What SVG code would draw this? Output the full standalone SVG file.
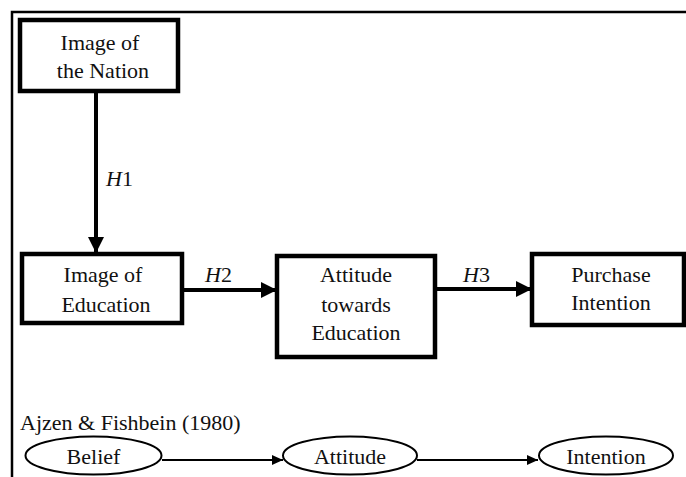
<svg xmlns="http://www.w3.org/2000/svg" width="686" height="477" viewBox="0 0 686 477">
<style>
text{font-family:'Liberation Serif','DejaVu Serif',serif;font-size:22px;fill:#111}
.c{text-anchor:middle}
.box{fill:#fff;stroke:#000;stroke-width:4.5}
.ell{fill:#fff;stroke:#000;stroke-width:2}
.big{stroke:#000;stroke-width:4;fill:none}
.small{stroke:#000;stroke-width:2.2;fill:none}
</style>
<defs>
<marker id="ah" markerUnits="userSpaceOnUse" markerWidth="18" markerHeight="16" refX="16" refY="8" orient="auto">
<path d="M0,0 L16,8 L0,16 Z" fill="#000"/>
</marker>
<marker id="as" markerUnits="userSpaceOnUse" markerWidth="13" markerHeight="11" refX="11" refY="5.5" orient="auto">
<path d="M0,0.5 L11,5.5 L0,10.5 Z" fill="#000"/>
</marker>
</defs>
<rect width="686" height="477" fill="#fff"/>
<g id="frame">
<path d="M12,477 V12 H686" fill="none" stroke="#000" stroke-width="2.5"/>
</g>
<g id="connectors">
<line class="big" x1="96" y1="92" x2="96" y2="253" marker-end="url(#ah)"/>
<line class="big" x1="182" y1="290" x2="277" y2="290" marker-end="url(#ah)"/>
<line class="big" x1="435" y1="289" x2="532" y2="289" marker-end="url(#ah)"/>
<line class="small" x1="162" y1="460" x2="283" y2="460" marker-end="url(#as)"/>
<line class="small" x1="417" y1="460" x2="538" y2="460" marker-end="url(#as)"/>
<text x="106" y="186" font-family="Liberation Serif, serif"><tspan font-style="italic">H</tspan>1</text>
<text x="205" y="282" font-family="Liberation Serif, serif"><tspan font-style="italic">H</tspan>2</text>
<text x="463" y="282" font-family="Liberation Serif, serif"><tspan font-style="italic">H</tspan>3</text>
</g>
<g id="nation">
<rect class="box" x="20" y="20" width="158" height="71"/>
<text class="c" x="100" y="50">Image of</text>
<text class="c" x="103" y="78">the Nation</text>
</g>
<g id="education">
<rect class="box" x="22" y="254" width="160" height="69"/>
<text class="c" x="103" y="282">Image of</text>
<text class="c" x="106" y="312">Education</text>
</g>
<g id="attitude">
<rect class="box" x="277" y="256" width="158" height="101"/>
<text class="c" x="356" y="282">Attitude</text>
<text class="c" x="356" y="312">towards</text>
<text class="c" x="356" y="340">Education</text>
</g>
<g id="purchase">
<rect class="box" x="532" y="254" width="152" height="71"/>
<text class="c" x="611" y="282">Purchase</text>
<text class="c" x="611" y="310">Intention</text>
</g>
<text x="20" y="430">Ajzen &amp; Fishbein (1980)</text>
<g id="belief">
<ellipse class="ell" cx="93.5" cy="455.5" rx="68" ry="19"/>
<text class="c" x="93.5" y="464">Belief</text>
</g>
<g id="attitude2">
<ellipse class="ell" cx="350" cy="455.5" rx="67" ry="19"/>
<text class="c" x="350" y="464">Attitude</text>
</g>
<g id="intention">
<ellipse class="ell" cx="606" cy="455.5" rx="67" ry="19"/>
<text class="c" x="606" y="464">Intention</text>
</g>
</svg>
